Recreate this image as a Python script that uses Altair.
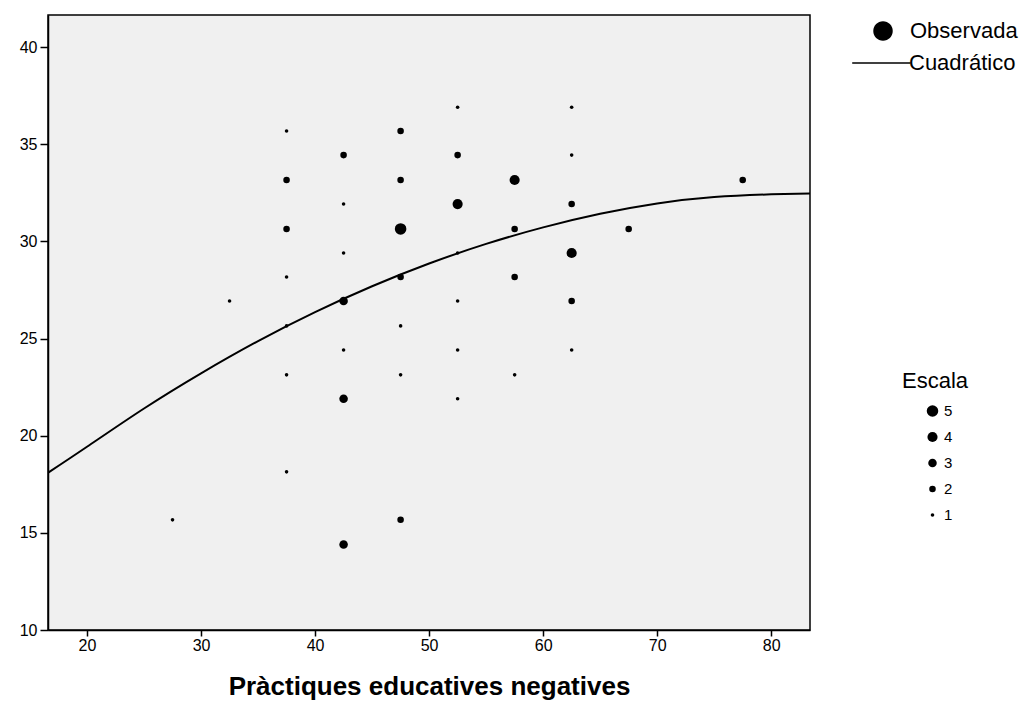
import altair as alt
import pandas as pd

# Observed points (x, y, count)
pts_x = [27.5,
         32.5,
         37.5, 37.5, 37.5, 37.5, 37.5, 37.5, 37.5,
         42.5, 42.5, 42.5, 42.5, 42.5, 42.5, 42.5,
         47.5, 47.5, 47.5, 47.5, 47.5, 47.5, 47.5,
         52.5, 52.5, 52.5, 52.5, 52.5, 52.5, 52.5,
         57.5, 57.5, 57.5, 57.5,
         62.5, 62.5, 62.5, 62.5, 62.5, 62.5,
         67.5,
         77.5]
pts_y = [15.67,
         26.93,
         35.68, 33.16, 30.64, 28.17, 25.65, 23.13, 18.14,
         34.44, 31.92, 29.40, 26.93, 24.41, 21.90, 14.40,
         35.68, 33.16, 30.64, 28.17, 25.65, 23.13, 15.67,
         36.90, 34.44, 31.92, 29.40, 26.93, 24.41, 21.90,
         33.16, 30.64, 28.17, 23.13,
         36.90, 34.44, 31.92, 29.40, 26.93, 24.41,
         30.64,
         33.16]
pts_n = [1,
         1,
         1, 2, 2, 1, 1, 1, 1,
         2, 1, 1, 3, 1, 3, 3,
         2, 2, 5, 2, 1, 1, 2,
         1, 2, 4, 1, 1, 1, 1,
         4, 2, 2, 1,
         1, 1, 2, 4, 2, 1,
         2,
         2]

# Quadratic fit curve
curve_x = [16.6, 20.0, 25.0, 30.0, 35.0, 40.0, 45.0, 50.0, 55.0, 60.0, 65.0, 70.0, 75.0, 80.0, 83.4]
curve_y = [18.1, 19.43, 21.40, 23.21, 24.87, 26.36, 27.69, 28.86, 29.87, 30.72, 31.42, 31.95, 32.28, 32.42, 32.47]

obs_key = ["Observada"]
fit_key = ["Cuadrático"]
escala_values = [5, 4, 3, 2, 1]
x_ticks = [20, 30, 40, 50, 60, 70, 80]
y_ticks = [10, 15, 20, 25, 30, 35, 40]

pts = pd.DataFrame({"x": pts_x, "y": pts_y, "n": pts_n})
curve = pd.DataFrame({"x": curve_x, "y": curve_y})
obs_df = pd.DataFrame({"k": obs_key})
fit_df = pd.DataFrame({"k": fit_key})

FONT = "Liberation Sans"
xscale = alt.Scale(domain=[16.58, 83.4], nice=False, zero=False)
yscale = alt.Scale(domain=[10, 41.65], nice=False, zero=False)
xaxis = alt.Axis(title="Pràctiques educatives negatives", values=x_ticks,
                 titleFontSize=26, titleFontWeight="bold", titlePadding=20,
                 tickSize=6, labelPadding=1)
yaxis = alt.Axis(title=None, values=y_ticks, tickSize=8, labelPadding=3)

line = alt.Chart(curve).mark_line(color="black", strokeWidth=2, clip=True,
                                  interpolate="natural").encode(
    x=alt.X("x:Q", scale=xscale, axis=xaxis),
    y=alt.Y("y:Q", scale=yscale, axis=yaxis),
)

points = alt.Chart(pts).mark_circle(color="black", opacity=1).encode(
    x=alt.X("x:Q", scale=xscale, axis=xaxis),
    y=alt.Y("y:Q", scale=yscale, axis=yaxis),
    size=alt.Size("n:Q", scale=alt.Scale(domain=[1, 5], range=[13, 133]),
                  legend=alt.Legend(title="Escala", values=escala_values, orient="none",
                                    legendX=854, legendY=356, symbolOffset=23,
                                    labelOffset=4, rowPadding=11, titlePadding=11,
                                    clipHeight=14,
                                    titleFontSize=22, titleFontWeight="normal",
                                    labelFontSize=15, symbolType="circle",
                                    symbolFillColor="black", symbolStrokeColor="black",
                                    symbolOpacity=1)),
)

circle_path = "M-1,0A1,1,0,1,0,1,0A1,1,0,1,0,-1,0Z"
line_path = "M-2.98,0H2.85"

obs_layer = alt.Chart(obs_df).mark_point(filled=True, color="black", opacity=0).encode(
    x=alt.value(0),
    y=alt.value(0),
    shape=alt.Shape("k:N",
                    scale=alt.Scale(domain=obs_key, range=[circle_path]),
                    legend=alt.Legend(title=None, orient="none", legendX=824, legendY=5,
                                      symbolSize=380, symbolOpacity=1,
                                      labelFontSize=22, labelOffset=16)),
)

fit_layer = alt.Chart(fit_df).mark_line(color="black", opacity=0).encode(
    x=alt.value(0),
    y=alt.value(0),
    stroke=alt.Stroke("k:N",
                      scale=alt.Scale(domain=fit_key, range=["black"]),
                      legend=alt.Legend(title=None, orient="none", legendX=823, legendY=37,
                                        symbolType=line_path, symbolSize=400,
                                        symbolStrokeWidth=1.5, symbolOpacity=1,
                                        labelFontSize=22, labelOffset=16)),
)

chart = alt.layer(line, points, obs_layer, fit_layer).resolve_scale(
    shape="independent", size="independent", stroke="independent"
).properties(
    width=762, height=615,
    autosize=alt.AutoSizeParams(type="none"),
    padding={"left": 48, "top": 15, "right": 213, "bottom": 78},
    background="white",
).configure_view(
    fill="#f0f0f0", stroke="black", strokeWidth=1.5
).configure_axis(
    labelFont=FONT, titleFont=FONT, labelFontSize=16, labelColor="black",
    titleColor="black", grid=False, domainColor="black", domainWidth=1.5,
    tickColor="black", tickWidth=1.5
).configure_legend(
    labelFont=FONT, titleFont=FONT, labelColor="black", titleColor="black"
)

chart.save("out.html", embed_options={"renderer": "svg", "actions": False})
